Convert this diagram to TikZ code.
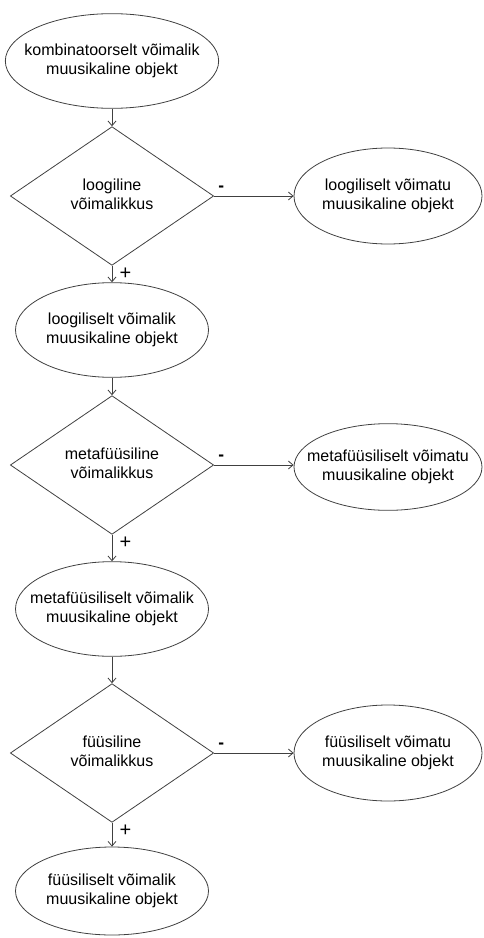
\documentclass[tikz,border=0pt]{standalone}
\usepackage{fontspec}
\setmainfont{Liberation Sans}
\usetikzlibrary{shapes.geometric,arrows.meta}

% text of fixed-size shapes: zero width, so the shape keeps its minimum size
\newcommand{\lines}[1]{\makebox[0pt]{\begin{tabular}{@{}c@{}}#1\end{tabular}}}

\tikzset{
  obj/.style={ellipse,draw=black!75,line width=0.6pt,inner sep=0pt,
    font=\fontsize{12}{14.25}\selectfont,minimum width=144.75pt,minimum height=71pt},
  noobj/.style={obj,minimum width=141pt,minimum height=70pt},
  test/.style={diamond,draw=black!75,line width=0.6pt,inner sep=0pt,
    font=\fontsize{12}{14.25}\selectfont,minimum width=152.5pt,minimum height=104pt},
  arr/.style={->,draw=black!75,line width=0.6pt},
  minus/.style={above right,xshift=-0.5pt,font=\fontsize{13}{13}\selectfont\bfseries},
  plus/.style={below right,xshift=2pt,yshift=2pt,font=\fontsize{15}{15}\selectfont}
}

\begin{document}
\begin{tikzpicture}[x=0.75pt,y=-0.75pt,>={Straight Barb[length=3.5pt,width=6pt]}]
  \useasboundingbox (0,0) rectangle (483,938);
  % main column
  \node[obj,minimum width=160pt] (start) at (112,61) {\lines{kombinatoorselt võimalik\\muusikaline objekt}};
  \node[test] (d1) at (112,196) {\lines{loogiline\\võimalikkus}};
  \node[obj] (e2) at (112,330) {\lines{loogiliselt võimalik\\muusikaline objekt}};
  \node[test] (d2) at (112,465) {\lines{metafüüsiline\\võimalikkus}};
  \node[obj] (e3) at (112,609) {\lines{metafüüsiliselt võimalik\\muusikaline objekt}};
  \node[test] (d3) at (112,753) {\lines{füüsiline\\võimalikkus}};
  \node[obj,minimum height=66pt] (e4) at (112,891) {\lines{füüsiliselt võimalik\\muusikaline objekt}};
  % right column
  \node[noobj,minimum height=72pt] (r1) at (388,196) {\lines{loogiliselt võimatu\\muusikaline objekt}};
  \node[noobj,minimum height=65pt] (r2) at (388,467) {\lines{metafüüsiliselt võimatu\\muusikaline objekt}};
  \node[noobj,minimum height=72pt] (r3) at (388,753) {\lines{füüsiliselt võimatu\\muusikaline objekt}};

  \draw[arr] (start) -- (d1);
  \draw[arr] (d1) -- (r1) node[pos=0,minus] (m1) {-};
  \draw[arr] (d1) -- (e2) node[pos=0,plus] (p1) {+};
  \draw[arr] (e2) -- (d2);
  \draw[arr] (d2) -- (d2 -| r2.west) node[pos=0,minus] (m2) {-};
  \draw[arr] (d2) -- (e3) node[pos=0,plus] (p2) {+};
  \draw[arr] (e3) -- (d3);
  \draw[arr] (d3) -- (r3) node[pos=0,minus] (m3) {-};
  \draw[arr] (d3) -- (e4) node[pos=0,plus] (p3) {+};
\end{tikzpicture}
\end{document}
